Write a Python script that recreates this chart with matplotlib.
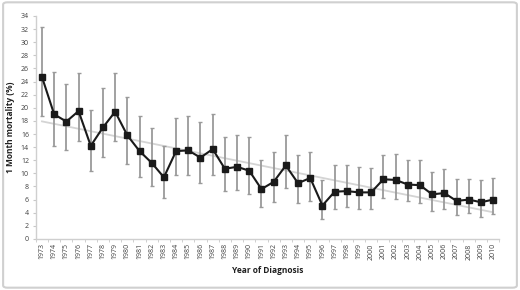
import numpy as np
import matplotlib
matplotlib.use('Agg')
import matplotlib.pyplot as plt
from matplotlib.patches import FancyBboxPatch

years = list(range(1973, 2011))
mortality = [24.7, 19.0, 17.9, 19.5, 14.2, 17.0, 19.4, 15.8, 13.4, 11.6,
             9.4, 13.4, 13.5, 12.4, 13.7, 10.7, 11.0, 10.4, 7.6, 8.7,
             11.2, 8.5, 9.3, 5.1, 7.2, 7.3, 7.1, 7.1, 9.1, 9.0,
             8.3, 8.2, 6.8, 7.0, 5.8, 6.0, 5.6, 6.0]
ci_low = [18.7, 14.1, 13.5, 14.9, 10.3, 12.5, 14.9, 11.5, 9.5, 8.0,
          6.2, 9.8, 9.8, 8.5, 9.8, 7.3, 7.5, 6.9, 4.8, 5.6,
          7.8, 5.5, 5.8, 3.0, 4.5, 4.8, 4.6, 4.6, 6.3, 6.1,
          5.8, 5.5, 4.3, 4.5, 3.6, 3.9, 3.4, 3.8]
ci_high = [32.3, 25.4, 23.6, 25.3, 19.6, 23.0, 25.3, 21.6, 18.8, 16.9,
           14.1, 18.5, 18.7, 17.9, 19.1, 15.5, 15.9, 15.6, 12.0, 13.3,
           15.8, 12.8, 13.2, 9.0, 11.2, 11.2, 10.9, 10.8, 12.8, 13.0,
           12.0, 12.1, 10.2, 10.6, 9.1, 9.2, 9.0, 9.3]

plt.rcParams['font.family'] = ['Open Sans', 'DejaVu Sans']

fig = plt.figure(figsize=(5.2, 2.9), dpi=100)
ax = fig.add_axes([0.069, 0.176, 0.891, 0.769])

x = np.arange(len(years))
y = np.array(mortality)
yerr = [y - np.array(ci_low), np.array(ci_high) - y]

# linear trend line (Excel style)
coef = np.polyfit(x, y, 1)
ax.plot(x, np.polyval(coef, x), color='#d4d4d4', lw=1.3, zorder=1)

ax.errorbar(x, y, yerr=yerr, fmt='none', ecolor='#9a9a9a', elinewidth=1.3,
            capsize=1.2, capthick=1.0, zorder=2)
ax.plot(x, y, color='#1a1a1a', lw=1.5, marker='s', markersize=4.5, zorder=3)

ax.set_xlim(-0.5, len(years) - 0.5)
ax.set_ylim(0, 34)
ax.set_yticks(range(0, 35, 2))
ax.set_xticks(x)
ax.set_xticklabels([str(v) for v in years], rotation=90, fontsize=5, color='#404040')
ax.set_xticks(np.arange(-0.5, len(years), 1), minor=True)
ax.tick_params(axis='x', which='major', length=0, pad=3)
ax.tick_params(axis='x', which='minor', length=2, color='#c8c8c8')
ax.tick_params(axis='y', labelsize=5, colors='#404040', length=2, pad=3)
ax.tick_params(axis='y', color='#c8c8c8')

for s in ['top', 'right']:
    ax.spines[s].set_visible(False)
for s in ['left', 'bottom']:
    ax.spines[s].set_color('#cfcfcf')
    ax.spines[s].set_linewidth(1.0)

ax.set_ylabel('1 Month mortality (%)', fontsize=6, fontweight='bold', color='#202020', labelpad=4)
ax.set_xlabel('Year of Diagnosis', fontsize=6, fontweight='bold', color='#202020', labelpad=5)

border = FancyBboxPatch((0.006, 0.008), 0.988, 0.984, boxstyle='round,pad=0,rounding_size=0.008',
                        transform=fig.transFigure, facecolor='none', edgecolor='#d0d0d0', lw=1.5)
fig.patches.append(border)

fig.savefig('out.png', dpi=100)
